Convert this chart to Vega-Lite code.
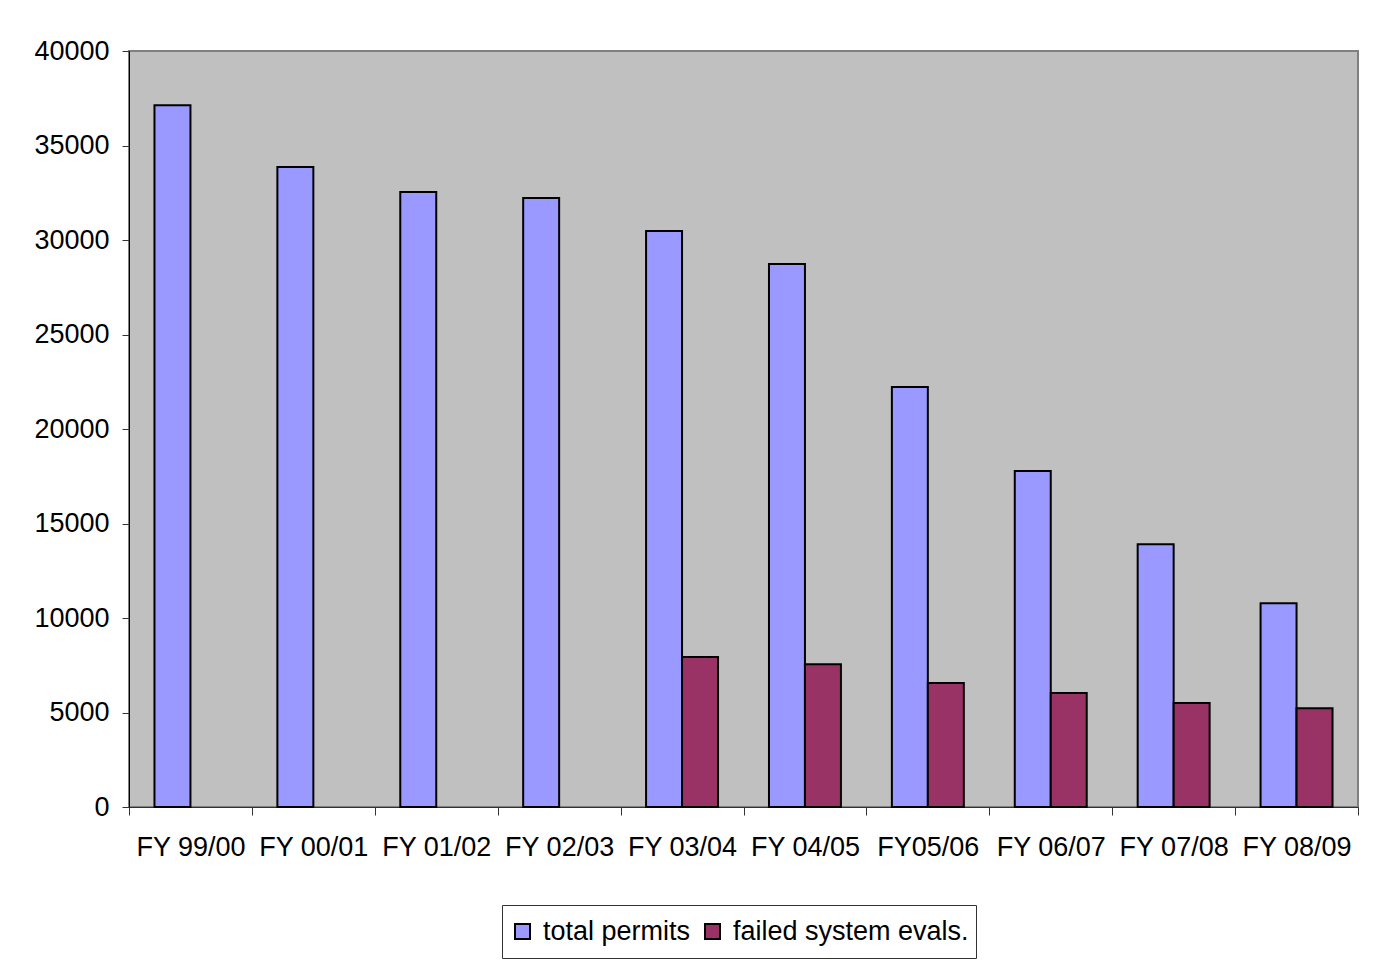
{
  "$schema": "https://vega.github.io/schema/vega-lite/v6.json",
  "autosize": {"type": "none"},
  "padding": {"left": 129, "top": 51, "right": 27, "bottom": 163},
  "width": 1229,
  "height": 756,
  "background": "white",
  "config": {
    "font": "Liberation Sans",
    "view": {"fill": "#C0C0C0", "stroke": "#808080", "strokeWidth": 2}
  },
  "data": {
    "values": [
      {"fy": "FY 99/00", "series": "total permits", "value": 37130},
      {"fy": "FY 00/01", "series": "total permits", "value": 33860},
      {"fy": "FY 01/02", "series": "total permits", "value": 32540},
      {"fy": "FY 02/03", "series": "total permits", "value": 32220},
      {"fy": "FY 03/04", "series": "total permits", "value": 30480},
      {"fy": "FY 04/05", "series": "total permits", "value": 28730},
      {"fy": "FY05/06", "series": "total permits", "value": 22220},
      {"fy": "FY 06/07", "series": "total permits", "value": 17780},
      {"fy": "FY 07/08", "series": "total permits", "value": 13900},
      {"fy": "FY 08/09", "series": "total permits", "value": 10780},
      {"fy": "FY 03/04", "series": "failed system evals.", "value": 7940},
      {"fy": "FY 04/05", "series": "failed system evals.", "value": 7550},
      {"fy": "FY05/06", "series": "failed system evals.", "value": 6560},
      {"fy": "FY 06/07", "series": "failed system evals.", "value": 6030},
      {"fy": "FY 07/08", "series": "failed system evals.", "value": 5500},
      {"fy": "FY 08/09", "series": "failed system evals.", "value": 5220}
    ]
  },
  "mark": {"type": "bar", "stroke": "black", "strokeWidth": 2},
  "encoding": {
    "x": {
      "field": "fy",
      "type": "nominal",
      "sort": null,
      "scale": {"paddingInner": 0, "paddingOuter": 0},
      "axis": {
        "title": null,
        "labelAngle": 0,
        "labelFontSize": 27,
        "labelColor": "black",
        "labelPadding": 19,
        "tickBand": "extent",
        "tickSize": 8,
        "tickColor": "#333",
        "domainColor": "#333",
        "labelOverlap": false,
        "labelLimit": 0
      }
    },
    "xOffset": {
      "field": "series",
      "type": "nominal",
      "scale": {"domain": ["total permits", "failed system evals."], "paddingInner": 0, "paddingOuter": 0.708}
    },
    "y": {
      "field": "value",
      "type": "quantitative",
      "scale": {"domain": [0, 40000]},
      "axis": {
        "title": null,
        "values": [0, 5000, 10000, 15000, 20000, 25000, 30000, 35000, 40000],
        "format": "d",
        "grid": false,
        "labelFontSize": 27,
        "labelColor": "black",
        "labelPadding": 13,
        "tickSize": 7,
        "tickColor": "#333",
        "domainColor": "black"
      }
    },
    "color": {
      "field": "series",
      "type": "nominal",
      "scale": {"domain": ["total permits", "failed system evals."], "range": ["#9999FF", "#993366"]},
      "legend": {
        "title": null,
        "orient": "none",
        "direction": "horizontal",
        "legendX": 373,
        "legendY": 854,
        "symbolType": "square",
        "symbolSize": 225,
        "symbolStrokeColor": "black",
        "symbolStrokeWidth": 2,
        "symbolOpacity": 1,
        "labelFontSize": 27,
        "labelColor": "black",
        "labelOffset": 7,
        "labelLimit": 0,
        "columnPadding": 8,
        "padding": 7,
        "clipHeight": 39,
        "strokeColor": "#333",
        "fillColor": "white"
      }
    }
  }
}
